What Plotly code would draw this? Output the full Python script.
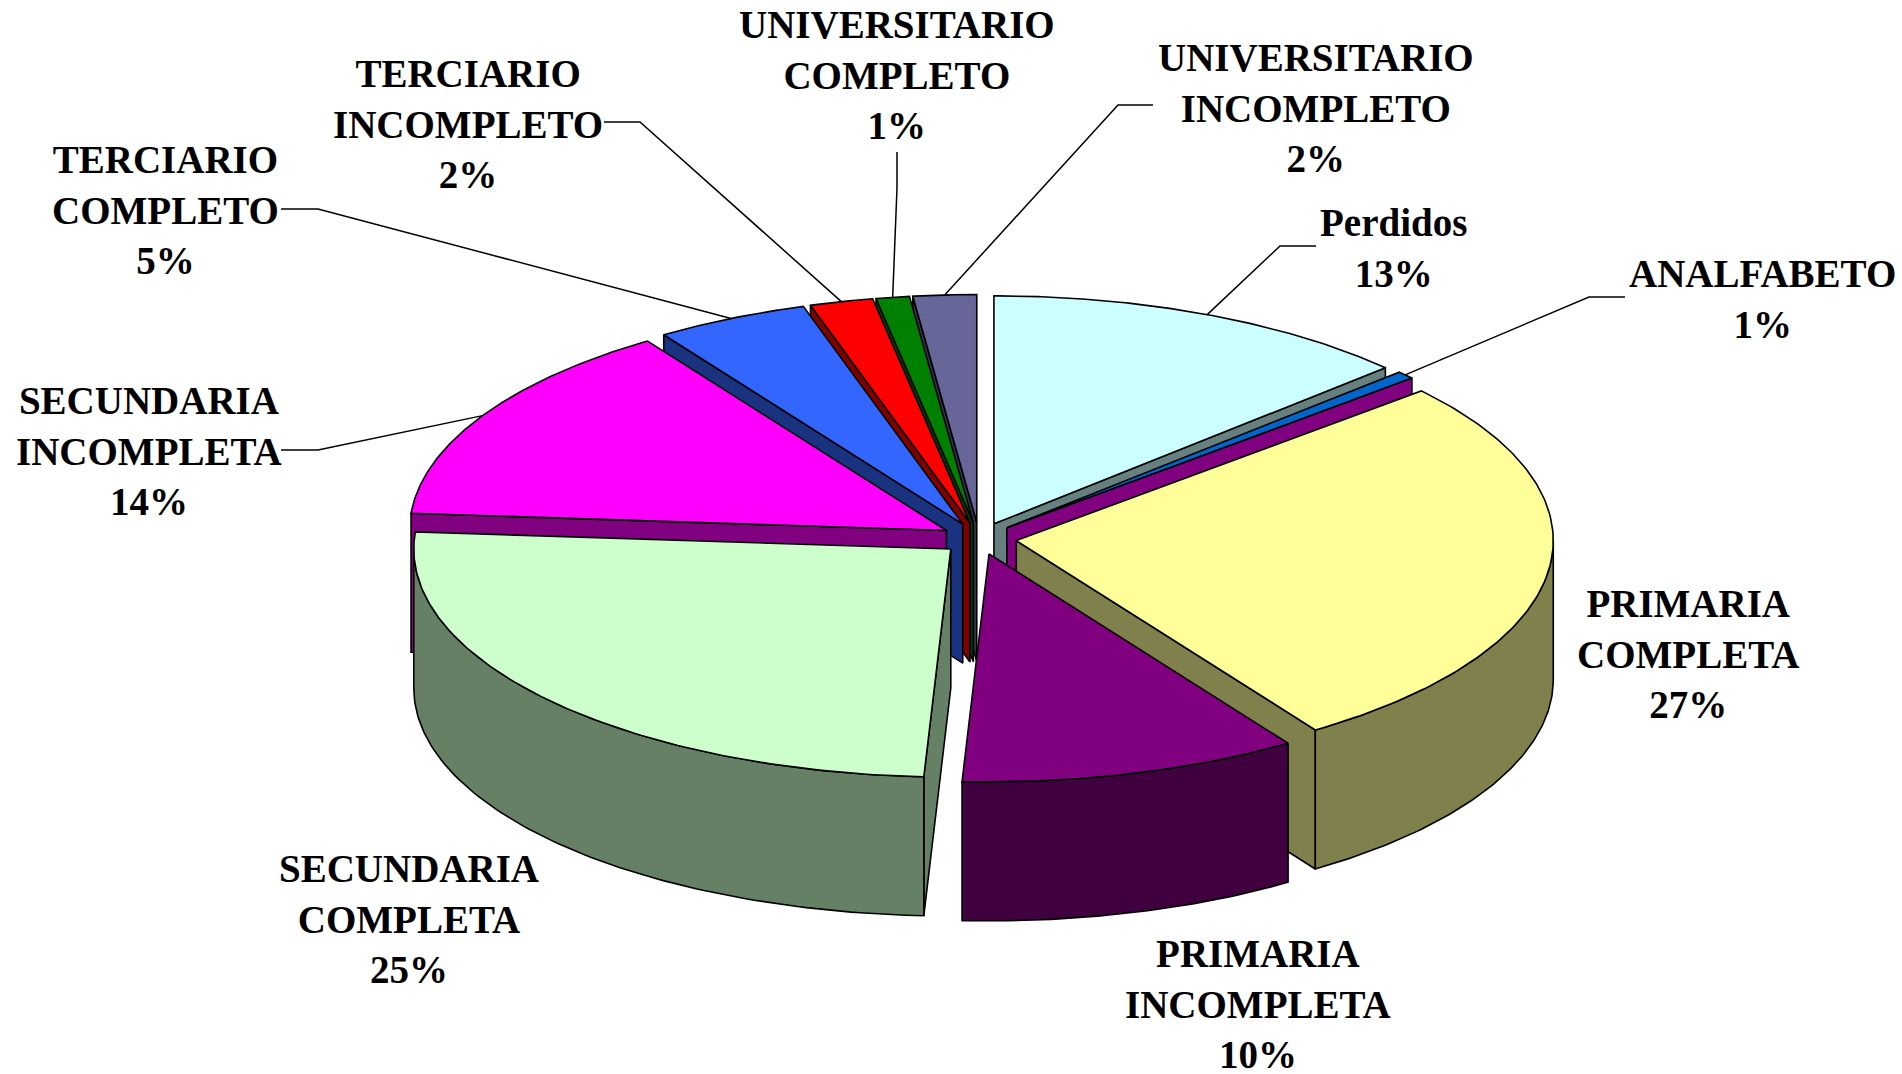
import numpy as np
import plotly.graph_objects as go

categories = ["Perdidos", "ANALFABETO", "PRIMARIA<br>COMPLETA", "PRIMARIA<br>INCOMPLETA",
              "SECUNDARIA<br>COMPLETA", "SECUNDARIA<br>INCOMPLETA", "TERCIARIO<br>COMPLETO",
              "TERCIARIO<br>INCOMPLETO", "UNIVERSITARIO<br>COMPLETO", "UNIVERSITARIO<br>INCOMPLETO"]
values = [13, 0.6, 27, 10.2, 25.4, 14.4, 4.6, 1.9, 1.0, 1.9]
top_colors = ["#CCFFFF", "#0066CC", "#FFFF99", "#800080", "#CCFFCC",
              "#FF00FF", "#3366FF", "#FF0000", "#008000", "#666699"]
side_colors = ["#668080", "#800080", "#80804D", "#400040", "#668066",
               "#800080", "#1A3380", "#800000", "#004000", "#33334D"]

# label centre (middle of the first line) in page pixels
label_pos = [(1393, 223), (1762, 274), (1688, 603), (1258, 953), (409, 868),
             (149, 400), (165, 159), (468, 73), (897, 24), (1316, 57)]
# elbow of each leader line: label end, knee; None = no leader
leader_pts = [((1316, 246), (1280, 246)), ((1625, 297), (1589, 297)), None, None, None,
              ((281, 450), (318, 450)), ((281, 209), (318, 209)),
              ((604, 122), (640, 122)), ((897, 152), (897, 188)), ((1153, 105), (1118, 105))]

CX, CY, RX, RY, DEPTH, EXPLODE = 979, 538.5, 537, 228, 139, 0.07
LINE = dict(color="black", width=1.6)

fig = go.Figure()
total = sum(values)
edges = np.cumsum([0] + values) / total * 360.0


def ring(a, ox, oy, dy=0.0):
    r = np.radians(a)
    return ox + RX * np.sin(r), oy - RY * np.cos(r) + dy


def poly(x, y, color):
    x, y = list(x), list(y)
    fig.add_trace(go.Scatter(x=x + x[:1], y=y + y[:1], mode="lines", fill="toself",
                             fillcolor=color, line=LINE, hoverinfo="skip", showlegend=False))


mids = (edges[:-1] + edges[1:]) / 2
for i in sorted(range(len(values)), key=lambda k: -abs(mids[k] - 180)):
    a0, a1, m = edges[i], edges[i + 1], np.radians(mids[i])
    ox = CX + EXPLODE * RX * np.sin(m)
    oy = CY - EXPLODE * RY * np.cos(m)
    # cut faces
    if 180 <= a0 <= 360:
        px, py = ring(a0, ox, oy)
        poly([ox, px, px, ox], [oy, py, py + DEPTH, oy + DEPTH], side_colors[i])
    if 0 <= a1 <= 180:
        px, py = ring(a1, ox, oy)
        poly([ox, px, px, ox], [oy, py, py + DEPTH, oy + DEPTH], side_colors[i])
    # outer wall
    w0, w1 = max(a0, 90), min(a1, 270)
    if w1 > w0:
        t = np.linspace(w0, w1, 90)
        wx, wy = ring(t, ox, oy)
        poly(np.r_[wx, wx[::-1]], np.r_[wy, wy[::-1] + DEPTH], side_colors[i])
    # top
    t = np.linspace(a0, a1, 120)
    tx, ty = ring(t, ox, oy)
    poly(np.r_[ox, tx], np.r_[oy, ty], top_colors[i])

# leader lines end on the rim at each slice's middle angle
for i, pts in enumerate(leader_pts):
    if pts is None:
        continue
    m = np.radians(mids[i])
    ox = CX + EXPLODE * RX * np.sin(m)
    oy = CY - EXPLODE * RY * np.cos(m)
    ex, ey = ring(mids[i], ox, oy)
    fig.add_trace(go.Scatter(x=[pts[0][0], pts[1][0], ex], y=[pts[0][1], pts[1][1], ey],
                             mode="lines", line=dict(color="black", width=1.5),
                             hoverinfo="skip", showlegend=False))

for name, v, (lx, ly) in zip(categories, values, label_pos):
    n = name.count("<br>") + 1
    fig.add_annotation(x=lx, y=ly + 25.4 * n, text=f"{name}<br>{round(v)}%", showarrow=False,
                       xanchor="center", yanchor="middle", align="center",
                       font=dict(family="Liberation Serif", size=39, color="black", weight="bold"))

fig.update_layout(width=1902, height=1074, margin=dict(l=0, r=0, t=0, b=0),
                  paper_bgcolor="white", plot_bgcolor="white", showlegend=False,
                  xaxis=dict(range=[0, 1902], visible=False, fixedrange=True),
                  yaxis=dict(range=[1074, 0], visible=False, fixedrange=True))
fig.write_html("out.html", config=dict(displayModeBar=False),
               post_script="document.body.style.margin='0';document.body.style.overflow='hidden';")
